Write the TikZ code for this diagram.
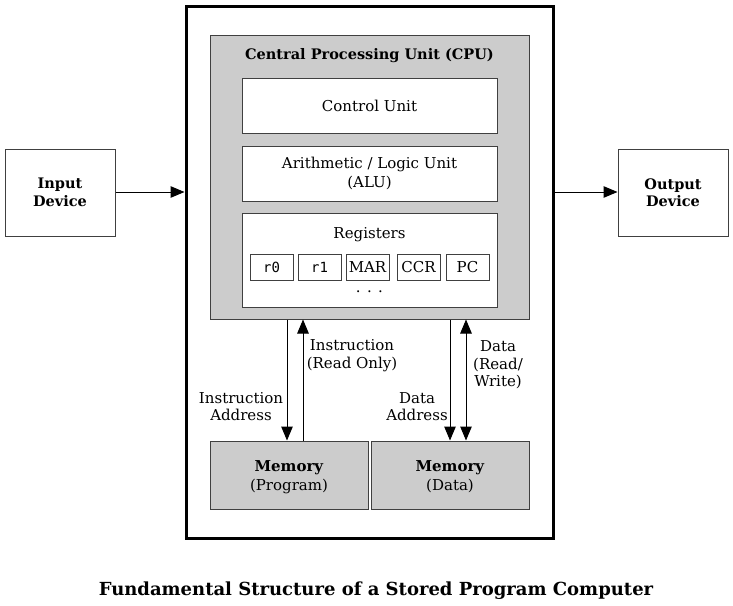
\documentclass[tikz,border=0pt]{standalone}
\usepackage{fontspec}
\setmainfont{DejaVu Serif}
\setmonofont{DejaVu Sans Mono}
\usetikzlibrary{arrows.meta}
\definecolor{boxgray}{HTML}{CCCCCC}
\definecolor{edge}{HTML}{404040}
\tikzset{
  box/.style={draw=edge, line width=1pt, fill=white, inner sep=0pt, align=center, font=\fontsize{15}{19}\selectfont},
  graybox/.style={box, fill=boxgray},
  reg/.style={box, minimum width=43pt, minimum height=26pt},
  arr/.style={line width=1pt, -{Triangle[length=14pt,width=11.5pt]}},
  lbl/.style={align=center, font=\fontsize{15}{17.5}\selectfont, inner sep=0pt},
}
\begin{document}
\begin{tikzpicture}[x=1pt,y=-1pt]
\useasboundingbox[fill=white] (0,0) rectangle (733,605);
% outer
\node (outer) [draw=black, line width=3pt, minimum width=367pt, minimum height=532pt, inner sep=0pt] at (369.5,272) {};
% cpu
\node (cpu) [graybox, minimum width=319pt, minimum height=284pt] at (369.5,177) {};
\node (cputitle) [font=\bfseries\fontsize{14.5}{17}\selectfont, inner sep=0pt] at (369.5,55.5) {Central Processing Unit (CPU)};
\node (cu) [box, minimum width=255pt, minimum height=55pt] at (369.5,105.5) {Control Unit};
\node (alu) [box, minimum width=255pt, minimum height=55pt] at (369.5,173.5) {Arithmetic / Logic Unit\\(ALU)};
\node (regs) [box, minimum width=255pt, minimum height=94pt] at (369.5,260) {};
\node (regtitle) [lbl] at (369.5,234.5) {Registers};
\node (r0) [reg, font=\ttfamily\fontsize{14}{16}\selectfont] at (271.5,267) {r0};
\node (r1) [reg, font=\ttfamily\fontsize{14}{16}\selectfont] at (319.5,267) {r1};
\node (mar) [reg] at (367.5,267) {MAR};
\node (ccr) [reg] at (418.5,267) {CCR};
\node (pc) [reg] at (467.5,267) {PC};
\node (dots) [lbl] at (369.5,291.5) {. . .};
% io
\node (in) [box, minimum width=110pt, minimum height=87pt, font=\bfseries\fontsize{14.5}{17.5}\selectfont] at (60,192.5) {Input\\Device};
\node (out) [box, minimum width=110pt, minimum height=87pt, font=\bfseries\fontsize{14.5}{17.5}\selectfont] at (673,192.5) {Output\\Device};
\draw[arr] (in.east |- 0,192) coordinate (inarr) -- (outer.west |- inarr);
\draw[arr] (outer.east |- inarr) -- (out.west |- inarr);
% memories
\node (mp) [graybox, minimum width=158pt, minimum height=68pt] at (289,475) {};
\node (mptext) [lbl, font=\fontsize{15}{19}\selectfont] at (289,477) {\textbf{Memory}\\(Program)};
\node (md) [graybox, minimum width=158pt, minimum height=68pt] at (450,475) {};
\node (mdtext) [lbl, font=\fontsize{15}{19}\selectfont] at (450,477) {\textbf{Memory}\\(Data)};
\coordinate (ia) at (287,0);
\coordinate (ir) at (303,0);
\coordinate (da) at (450,0);
\coordinate (dr) at (466,0);
\draw[arr] (cpu.south -| ia) -- (mp.north -| ia);
\draw[arr] (mp.north -| ir) -- (cpu.south -| ir);
\draw[arr] (cpu.south -| da) -- (md.north -| da);
\draw[line width=1pt, {Triangle[length=14pt,width=11.5pt]}-{Triangle[length=14pt,width=11.5pt]}] (cpu.south -| dr) -- (md.north -| dr);
% labels
\node (lir) [lbl] at (352,355.5) {Instruction\\(Read Only)};
\node (lia) [lbl] at (241,406.5) {Instruction\\Address};
\node (lda) [lbl] at (417,406.5) {Data\\Address};
\node (ldr) [lbl] at (498,365) {Data\\(Read/\\Write)};
% caption
\node (cap) [font=\bfseries\fontsize{18}{21}\selectfont, inner sep=0pt] at (376,591) {Fundamental Structure of a Stored Program Computer};
\end{tikzpicture}
\end{document}
